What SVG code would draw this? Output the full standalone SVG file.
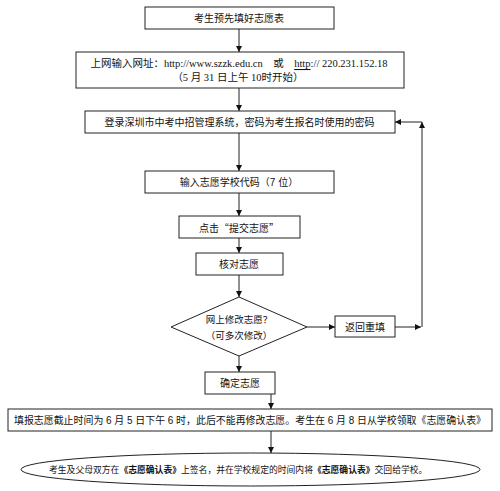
<svg xmlns="http://www.w3.org/2000/svg" width="500" height="491" viewBox="0 0 500 491">
<defs>
<marker id="ah" viewBox="0 0 10 10" refX="10" refY="5" markerWidth="6" markerHeight="6" orient="auto" markerUnits="userSpaceOnUse">
<path d="M0,0 L10,5 L0,10 z" fill="#111"/>
</marker>
</defs>
<style>
.bx{fill:#fff;stroke:#222;stroke-width:1}
.t{font-family:"Liberation Sans","Noto Sans CJK SC",sans-serif;font-size:10px;fill:#111;text-anchor:middle;dominant-baseline:central}
.s{font-family:"Liberation Serif","Noto Sans CJK SC",serif;font-size:10.5px}
.cjk{font-family:"Noto Sans CJK SC",sans-serif}
.c{fill:none;stroke:#222;stroke-width:1}
.b{font-weight:bold}
</style>
<rect width="500" height="491" fill="#fff"/>
<g id="connectors">
<line class="c" x1="239" y1="29" x2="239" y2="52" marker-end="url(#ah)"/>
<line class="c" x1="239" y1="88" x2="239" y2="111" marker-end="url(#ah)"/>
<line class="c" x1="239" y1="133" x2="239" y2="171" marker-end="url(#ah)"/>
<line class="c" x1="239" y1="193" x2="239" y2="216" marker-end="url(#ah)"/>
<line class="c" x1="239" y1="238" x2="239" y2="253" marker-end="url(#ah)"/>
<line class="c" x1="239" y1="275" x2="239" y2="297" marker-end="url(#ah)"/>
<line class="c" x1="307" y1="327" x2="335" y2="327" marker-end="url(#ah)"/>
<line class="c" x1="395" y1="327" x2="421" y2="327" marker-end="url(#ah)"/>
<line class="c" x1="422" y1="327" x2="422" y2="122" marker-end="url(#ah)"/>
<line class="c" x1="422" y1="122" x2="395" y2="122" marker-end="url(#ah)"/>
<line class="c" x1="239" y1="356" x2="239" y2="372" marker-end="url(#ah)"/>
<line class="c" x1="271" y1="394" x2="271" y2="409" marker-end="url(#ah)"/>
<line class="c" x1="271" y1="431" x2="271" y2="453" marker-end="url(#ah)"/>
</g>
<g id="n1">
<rect class="bx" x="145" y="7" width="189" height="22"/>
<text class="t" x="239" y="18">考生预先填好志愿表</text>
</g>
<g id="n2">
<rect class="bx" x="76" y="52" width="328" height="36"/>
<text class="t s" x="239" y="63">上网输入网址：http://www.szzk.edu.cn　或　<tspan text-decoration="underline">http</tspan>:// 220.231.152.18</text>
<text class="t s" x="238" y="77">（5 月 31 日上午 10时开始）</text>
</g>
<g id="n3">
<rect class="bx" x="85" y="111" width="310" height="22"/>
<text class="t" x="239.5" y="122">登录深圳市中考中招管理系统，密码为考生报名时使用的密码</text>
</g>
<g id="n4">
<rect class="bx" x="145" y="171" width="189" height="22"/>
<text class="t" x="239" y="182">输入志愿学校代码（7 位）</text>
</g>
<g id="n5">
<rect class="bx" x="179" y="216" width="121" height="22"/>
<text class="t cjk" x="239" y="227">点击“提交志愿”</text>
</g>
<g id="n6">
<rect class="bx" x="196" y="253" width="87" height="22"/>
<text class="t" x="239" y="264">核对志愿</text>
</g>
<g id="n7">
<polygon class="bx" points="239,297 307,327 239,356 171,327"/>
<text class="t" x="239" y="319" style="font-size:9.5px">网上修改志愿？</text>
<text class="t" x="239" y="335" style="font-size:9.5px">（可多次修改）</text>
</g>
<g id="n8">
<rect class="bx" x="335" y="316" width="60" height="21"/>
<text class="t" x="365" y="327">返回重填</text>
</g>
<g id="n9">
<rect class="bx" x="205" y="372" width="70" height="22"/>
<text class="t" x="240" y="383">确定志愿</text>
</g>
<g id="n10">
<rect class="bx" x="8" y="409" width="484" height="22"/>
<text class="t" x="250" y="420" style="font-size:10px" textLength="472" lengthAdjust="spacingAndGlyphs">填报志愿截止时间为 6 月 5 日下午 6 时，此后不能再修改志愿。考生在 6 月 8 日从学校领取《志愿确认表》</text>
</g>
<g id="n11">
<ellipse class="bx" cx="250.5" cy="469.5" rx="229.5" ry="16.5"/>
<text class="t cjk" x="49" y="469" style="font-size:8.8px;text-anchor:start">考生及父母双方在<tspan class="b">《志愿确认表》</tspan>上签名，并在学校规定的时间内将<tspan class="b">《志愿确认表》</tspan>交回给学校。</text>
</g>
</svg>
